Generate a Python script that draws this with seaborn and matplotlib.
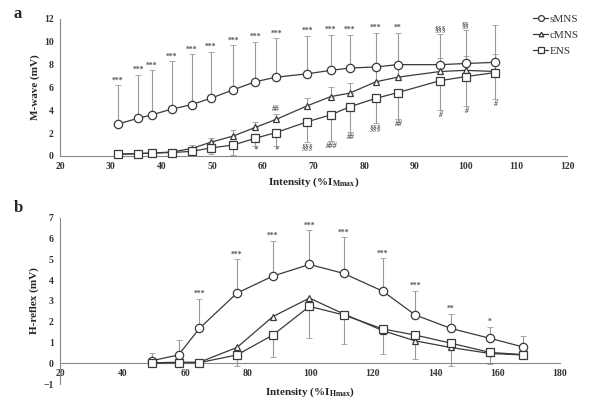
import numpy as np
import pandas as pd
import matplotlib
matplotlib.use("Agg")
import matplotlib.pyplot as plt
import seaborn as sns

# ---- panel a: M-wave recruitment ----
A_X = [31.4, 35.4, 38.1, 42.0, 46.0, 49.7, 54.2, 58.5, 62.6, 68.8, 73.4, 77.1, 82.3, 86.6, 95.0, 100.0, 105.7]
A_SMNS = [2.8, 3.3, 3.6, 4.1, 4.5, 5.05, 5.8, 6.5, 6.9, 7.2, 7.5, 7.7, 7.8, 8.0, 8.0, 8.1, 8.2]
A_SMNS_ERR = [3.4, 3.8, 3.9, 4.2, 4.4, 4.1, 3.9, 3.5, 3.4, 3.3, 3.1, 2.9, 3.0, 2.8, 2.7, 2.9, 3.3]
A_CMNS = [0.15, 0.2, 0.25, 0.35, 0.65, 1.2, 1.75, 2.5, 3.2, 4.4, 5.2, 5.5, 6.5, 6.9, 7.4, 7.5, 7.4]
A_CMNS_ERR = [0.1, 0.1, 0.1, 0.2, 0.3, 0.4, 0.5, 0.5, 0.5, 0.7, 0.8, 0.9, 1.0, 1.0, 1.2, 1.3, 1.5]
A_ENS = [0.15, 0.2, 0.25, 0.3, 0.4, 0.7, 0.96, 1.55, 2.05, 3.0, 3.6, 4.3, 5.05, 5.55, 6.6, 6.95, 7.3]
A_ENS_ERR = [0.1, 0.1, 0.1, 0.1, 0.2, 0.5, 0.9, 0.65, 1.15, 1.8, 2.3, 2.2, 2.2, 2.3, 2.6, 2.6, 2.3]
A_SMNS_SIG = ["***"] * 13 + ["**", "§§§", "§§", ""]
A_CMNS_SIG = [""] * 8 + ["##"] + [""] * 8
A_ENS_SIG = [""] * 7 + ["*", "*", "§§§", "###", "##", "§§§", "##", "#", "#", "#"]

# ---- panel b: H-reflex recruitment ----
B_X = [49.3, 57.9, 64.6, 76.6, 88.1, 99.8, 110.7, 123.3, 133.6, 145.0, 157.6, 168.0]
B_SMNS = [0.12, 0.4, 1.68, 3.38, 4.2, 4.76, 4.33, 3.47, 2.33, 1.68, 1.2, 0.79]
B_SMNS_ERR = [0.38, 0.7, 1.42, 1.62, 1.7, 1.64, 1.73, 1.59, 1.17, 0.7, 0.56, 0.54]
B_CMNS = [0.02, 0.05, 0.05, 0.76, 2.25, 3.14, 2.38, 1.57, 1.08, 0.76, 0.47, 0.40]
B_ENS = [0.0, 0.02, 0.03, 0.4, 1.36, 2.74, 2.33, 1.65, 1.36, 0.97, 0.52, 0.42]
B_ENS_ERR = [0.0, 0.0, 0.0, 0.53, 1.05, 1.5, 1.4, 1.2, 1.16, 1.1, 0.56, 0.0]
B_SMNS_SIG = ["", "", "***", "***", "***", "***", "***", "***", "***", "**", "*", ""]

PROTOCOLS = ["sMNS", "cMNS", "ENS"]
MARKERS = {"sMNS": "o", "cMNS": "^", "ENS": "s"}
MARKER_SIZES = [6.0, 4.8, 5.6]
LINE_COL = "#3a3a3a"
ERR_COL = "#9a9a9a"
SERIF = ["Liberation Serif", "DejaVu Serif"]


def long_df(x, series):
    rows = []
    for name, vals in zip(PROTOCOLS, series):
        for xi, yi in zip(x, vals):
            rows.append({"intensity": xi, "value": yi, "protocol": name})
    return pd.DataFrame(rows)


def draw_panel(ax, x, series):
    n_before = len(ax.get_lines())
    df = long_df(x, series)
    sns.lineplot(
        data=df, x="intensity", y="value", hue="protocol", style="protocol",
        markers=MARKERS, dashes=False, palette=[LINE_COL] * 3, ax=ax,
        linewidth=0.9, markersize=6, markerfacecolor="white",
        markeredgecolor=LINE_COL, markeredgewidth=0.9, legend=False, zorder=3,
        clip_on=False,
    )
    new_lines = ax.get_lines()[n_before:]
    for line, s in zip(new_lines, MARKER_SIZES):
        line.set_markersize(s)
    return new_lines


def errbar(ax, x, y, err, up=True):
    zeros = np.zeros(len(err))
    yerr = [zeros, err] if up else [err, zeros]
    ax.errorbar(x, y, yerr=yerr, fmt="none", ecolor=ERR_COL, elinewidth=0.8,
                capsize=2, capthick=0.6, zorder=1)


def sig_labels(ax, x, y, err, labels, up=True, off=0.25):
    for xi, yi, ei, lab in zip(x, y, err, labels):
        if not lab:
            continue
        if up:
            ax.text(xi, yi + ei + off * 0.3, lab, ha="center", va="bottom",
                    fontsize=5.5, color="#555", family=SERIF, fontweight="bold")
        else:
            ax.text(xi, yi - ei - off * 0.3, lab, ha="center", va="top",
                    fontsize=5.5, color="#555", family=SERIF, fontweight="bold", style="italic")


def style_axes(ax):
    sns.despine(ax=ax)
    ax.spines["bottom"].set_position(("data", 0))
    for sp in ["left", "bottom"]:
        ax.spines[sp].set_color("#888")
        ax.spines[sp].set_linewidth(0.8)
    ax.tick_params(axis="both", length=2.5, width=0.6, color="#888", labelsize=7, pad=2)
    for lab in ax.get_xticklabels() + ax.get_yticklabels():
        lab.set_fontfamily(SERIF)
        lab.set_fontweight("bold")
        lab.set_color("#333")


sns.set_style("white")
plt.rcParams["font.family"] = SERIF
plt.rcParams["mathtext.fontset"] = "custom"
plt.rcParams["mathtext.rm"] = "Liberation Serif:bold"
plt.rcParams["mathtext.bf"] = "Liberation Serif:bold"

fig = plt.figure(figsize=(6.13, 4.04), dpi=100)
ax_a = fig.add_axes([0.098, 0.614, 0.827, 0.339])
ax_b = fig.add_axes([0.098, 0.0495, 0.8157, 0.411])

# --- panel a ---
errbar(ax_a, A_X, A_SMNS, A_SMNS_ERR, up=True)
errbar(ax_a, A_X, A_CMNS, A_CMNS_ERR, up=True)
errbar(ax_a, A_X, A_ENS, A_ENS_ERR, up=False)
lines_a = draw_panel(ax_a, A_X, [A_SMNS, A_CMNS, A_ENS])
sig_labels(ax_a, A_X, A_SMNS, A_SMNS_ERR, A_SMNS_SIG, up=True)
sig_labels(ax_a, A_X, A_CMNS, A_CMNS_ERR, A_CMNS_SIG, up=True)
sig_labels(ax_a, A_X, A_ENS, A_ENS_ERR, A_ENS_SIG, up=False)
ax_a.set_xlim(20, 120)
ax_a.set_ylim(0, 12)
ax_a.set_xticks(range(20, 121, 10))
ax_a.set_yticks(range(0, 13, 2))
ax_a.set_xlabel(r"Intensity (%I$_{\mathrm{Mmax}}$)", fontsize=8, fontweight="bold", labelpad=3)
ax_a.set_ylabel("M-wave (mV)", fontsize=8, fontweight="bold", labelpad=3)
style_axes(ax_a)

# --- panel b ---
errbar(ax_b, B_X, B_SMNS, B_SMNS_ERR, up=True)
errbar(ax_b, B_X, B_ENS, B_ENS_ERR, up=False)
draw_panel(ax_b, B_X, [B_SMNS, B_CMNS, B_ENS])
sig_labels(ax_b, B_X, B_SMNS, B_SMNS_ERR, B_SMNS_SIG, up=True, off=0.12)
ax_b.set_xlim(20, 180)
ax_b.set_ylim(-1, 7)
ax_b.set_xticks(range(20, 181, 20))
ax_b.set_yticks(range(-1, 8, 1))
ax_b.set_xlabel(r"Intensity (%I$_{\mathrm{Hmax}}$)", fontsize=8, fontweight="bold", labelpad=5)
ax_b.set_ylabel("H-reflex (mV)", fontsize=8, fontweight="bold", labelpad=3)
style_axes(ax_b)

# legend at top right, small markers like the original
leg = fig.legend(lines_a, PROTOCOLS, loc="upper left", bbox_to_anchor=(0.862, 0.975),
                 frameon=False, fontsize=8, handlelength=1.4, handletextpad=0.1,
                 labelspacing=0.55, borderaxespad=0, markerscale=0.7)
for t in leg.get_texts():
    t.set_color("#333")

fig.text(0.022, 0.955, "a", fontsize=12, fontweight="bold", family=SERIF)
fig.text(0.022, 0.475, "b", fontsize=12, fontweight="bold", family=SERIF)

fig.savefig("out.png", dpi=100)
